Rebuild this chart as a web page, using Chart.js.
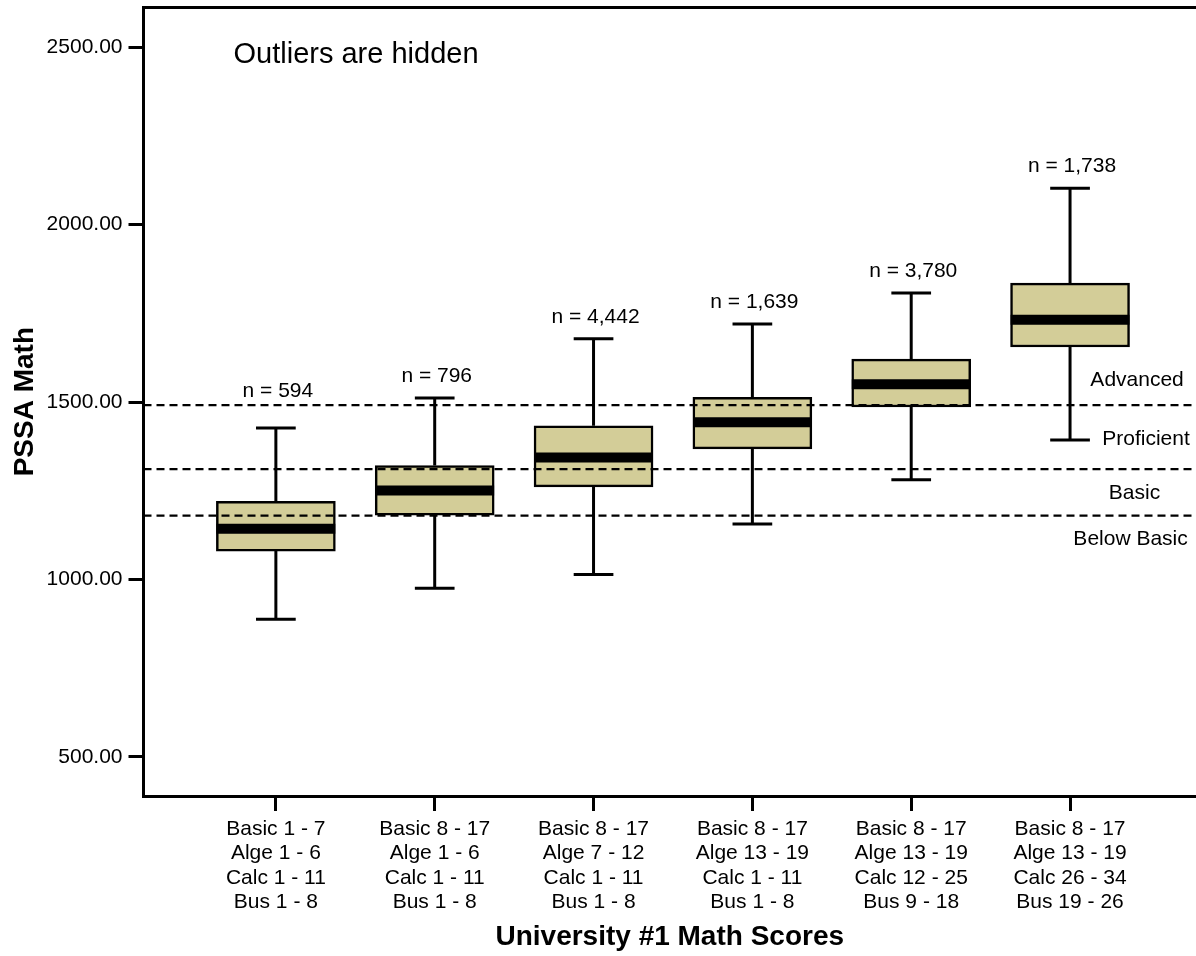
<!DOCTYPE html>
<html>
<head>
<meta charset="utf-8">
<script src="https://cdn.jsdelivr.net/npm/chart.js@4.4.1/dist/chart.umd.min.js"></script>
<style>
  html, body { margin: 0; padding: 0; background: #fff; overflow: hidden; }
  #wrap { width: 1196px; height: 956px; position: relative; }
</style>
</head>
<body>
<div id="wrap"><canvas id="c"></canvas></div>
<script>
// ---- data ----
const categories = [
  ['Basic 1 - 7', 'Alge 1 - 6', 'Calc 1 - 11', 'Bus 1 - 8'],
  ['Basic 8 - 17', 'Alge 1 - 6', 'Calc 1 - 11', 'Bus 1 - 8'],
  ['Basic 8 - 17', 'Alge 7 - 12', 'Calc 1 - 11', 'Bus 1 - 8'],
  ['Basic 8 - 17', 'Alge 13 - 19', 'Calc 1 - 11', 'Bus 1 - 8'],
  ['Basic 8 - 17', 'Alge 13 - 19', 'Calc 12 - 25', 'Bus 9 - 18'],
  ['Basic 8 - 17', 'Alge 13 - 19', 'Calc 26 - 34', 'Bus 19 - 26']
];
const whiskerLow  = [888, 975, 1014, 1156, 1281, 1393];
const quart1      = [1080, 1181, 1261, 1368, 1486, 1655];
const medians     = [1143, 1251, 1344, 1443, 1550, 1732];
const quart3      = [1220, 1321, 1433, 1513, 1621, 1835];
const whiskerHigh = [1427, 1511, 1678, 1720, 1807, 2102];
const nLabels     = ['n = 594', 'n = 796', 'n = 4,442', 'n = 1,639', 'n = 3,780', 'n = 1,738'];
const cutScores   = [1491, 1311, 1180];
const levelNames  = ['Advanced', 'Proficient', 'Basic', 'Below Basic'];
const levelLabelY = [1544, 1380, 1228, 1097];
const levelLabelX = [6.422, 6.478, 6.406, 6.381];
const yTickValues = [500, 1000, 1500, 2000, 2500];
const noteText    = 'Outliers are hidden';

// ---- layout constants ----
const X_MIN = 0.1666, X_MAX = 6.793;
const Y_MIN = 390, Y_MAX = 2612;
const BOX_HALF = 0.374, CAP_HALF = 0.125;
const FONT = '"Liberation Sans", Arial, Helvetica, sans-serif';

const xs = categories.map((_, i) => i + 1);

const boxData = xs.map((x, i) => ({ x: x, y: [quart1[i], quart3[i]] }));
const medianData = [], whiskerData = [], capData = [];
xs.forEach((x, i) => {
  medianData.push({ x: x - BOX_HALF, y: medians[i] }, { x: x + BOX_HALF, y: medians[i] }, { x: x + 0.5, y: null });
  whiskerData.push({ x: x, y: quart3[i] }, { x: x, y: whiskerHigh[i] }, { x: x, y: null },
                   { x: x, y: quart1[i] }, { x: x, y: whiskerLow[i] }, { x: x + 0.5, y: null });
  capData.push({ x: x - CAP_HALF, y: whiskerHigh[i] }, { x: x + CAP_HALF, y: whiskerHigh[i] }, { x: x, y: null },
               { x: x - CAP_HALF, y: whiskerLow[i] }, { x: x + CAP_HALF, y: whiskerLow[i] }, { x: x + 0.5, y: null });
});
const cutData = [];
cutScores.forEach(c => { cutData.push({ x: X_MIN, y: c }, { x: X_MAX, y: c }, { x: X_MAX, y: null }); });

const lineBase = { type: 'line', pointRadius: 0, pointHoverRadius: 0, fill: false, tension: 0,
                   spanGaps: false, borderColor: '#000', borderCapStyle: 'butt' };

const textPlugin = {
  id: 'texts',
  afterDatasetsDraw(chart) {
    const { ctx, scales: { x, y }, chartArea } = chart;
    ctx.save();
    ctx.fillStyle = '#000';
    ctx.textBaseline = 'alphabetic';
    ctx.font = '21px ' + FONT;
    ctx.textAlign = 'center';
    const topCut = y.getPixelForValue(cutScores[0]);
    xs.forEach((xv, i) => {
      const capPix = y.getPixelForValue(whiskerHigh[i]);
      const base = Math.min(capPix - 16, topCut - 8);
      ctx.fillText(nLabels[i], x.getPixelForValue(xv) + 2, base);
    });
    levelNames.forEach((t, i) => {
      ctx.fillText(t, x.getPixelForValue(levelLabelX[i]), y.getPixelForValue(levelLabelY[i]));
    });
    ctx.font = '29px ' + FONT;
    ctx.textAlign = 'left';
    ctx.fillText(noteText, chartArea.left + 90, chartArea.top + 56);
    ctx.restore();
  }
};

new Chart(document.getElementById('c'), {
  type: 'bar',
  data: {
    datasets: [
      Object.assign({}, lineBase, { label: 'cut', data: cutData, borderWidth: 2.2, borderDash: [8, 5], order: 1 }),
      Object.assign({}, lineBase, { label: 'median', data: medianData, borderWidth: 10, order: 2 }),
      Object.assign({}, lineBase, { label: 'caps', data: capData, borderWidth: 3, order: 3 }),
      Object.assign({}, lineBase, { label: 'whiskers', data: whiskerData, borderWidth: 3, order: 4 }),
      { type: 'bar', label: 'box', data: boxData, backgroundColor: '#d3cd98', borderColor: '#000',
        borderWidth: 2.5, borderSkipped: false, barThickness: 119, order: 5 }
    ]
  },
  options: {
    responsive: true,
    maintainAspectRatio: false,
    animation: false,
    events: [],
    layout: { padding: 0 },
    plugins: { legend: { display: false }, tooltip: { enabled: false } },
    scales: {
      x: {
        type: 'linear', position: 'bottom', min: X_MIN, max: X_MAX, offset: false,
        afterBuildTicks: s => { s.ticks = xs.map(v => ({ value: v })); },
        afterFit: s => { s.height = 160; s.paddingLeft = 0; s.paddingRight = 0; },
        grid: { offset: false, drawOnChartArea: false, drawTicks: true, tickLength: 15, tickWidth: 3, tickColor: '#000', color: '#000' },
        border: { display: true, width: 3, color: '#000' },
        ticks: {
          color: '#000', padding: 6, maxRotation: 0, autoSkip: false,
          font: { family: FONT, size: 21, lineHeight: 1.162 },
          callback: (v) => categories[Math.round(v) - 1] || ''
        },
        title: { display: true, text: 'University #1 Math Scores', color: '#000',
                 font: { family: FONT, size: 28, weight: 'bold', lineHeight: 1.2 }, padding: { top: 0, bottom: 1.5 } }
      },
      xTop: {
        type: 'linear', position: 'top', min: 0, max: 1,
        afterFit: s => { s.height = 7.3; s.paddingLeft = 0; s.paddingRight = 0; },
        grid: { display: false, drawTicks: false },
        border: { display: true, width: 3, color: '#000' },
        ticks: { display: false }
      },
      y: {
        type: 'linear', position: 'left', min: Y_MIN, max: Y_MAX,
        afterBuildTicks: s => { s.ticks = yTickValues.map(v => ({ value: v })); },
        afterFit: s => { s.width = 143.5; s.paddingTop = 0; s.paddingBottom = 0; },
        grid: { drawOnChartArea: false, drawTicks: true, tickLength: 15, tickWidth: 3, tickColor: '#000', color: '#000' },
        border: { display: true, width: 3, color: '#000' },
        ticks: { color: '#000', padding: 6, font: { family: FONT, size: 21 }, callback: v => Number(v).toFixed(2) },
        title: { display: true, text: 'PSSA Math', color: '#000',
                 font: { family: FONT, size: 28, weight: 'bold', lineHeight: 1.2 }, padding: { top: 8, bottom: 0 } }
      }
    }
  },
  plugins: [textPlugin]
});
</script>
</body>
</html>
